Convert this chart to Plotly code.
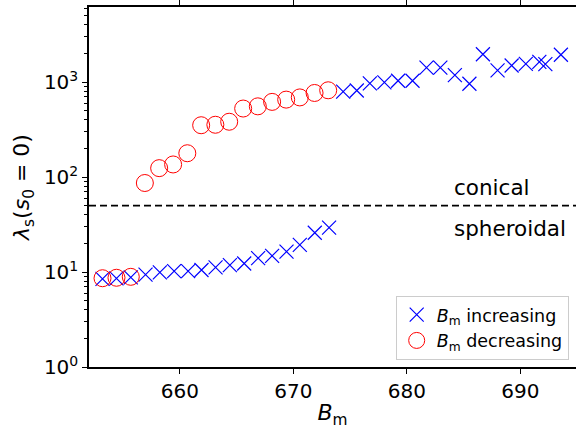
import plotly.graph_objects as go

# ---- data ----
inc_x = [653.19, 654.42, 655.68, 656.98, 658.24, 659.50, 660.73, 661.91, 663.15,
         664.41, 665.67, 666.90, 668.13, 669.40, 670.57, 671.89, 673.15,
         674.39, 675.59, 676.74, 678.02, 679.23, 680.50, 681.73, 682.95, 684.23,
         685.51, 686.70, 687.99, 689.23, 690.48, 691.67, 692.20, 693.57]
inc_y = [8.46, 8.58, 8.79, 9.38, 9.91, 10.2, 10.2, 10.5, 11.2,
         11.8, 12.3, 14.0, 14.8, 16.4, 19.3, 25.9, 29.3,
         792, 815, 968, 993, 1031, 1031, 1417, 1417, 1183,
         960, 1962, 1325, 1494, 1553, 1630, 1542, 1938]

dec_x = [653.19, 654.42, 655.68,
         656.92, 658.18, 659.41, 660.66, 661.88, 663.13, 664.35, 665.58,
         666.87, 668.13, 669.37, 670.57, 671.87, 673.07]
dec_y = [8.6, 8.7, 8.9,
         86.5, 124, 135.6, 178, 351, 355, 382, 526,
         555, 618, 653, 689, 767, 819]

threshold = 50
label_upper = "conical"
label_lower = "spheroidal"

y_tickvals = [1, 10, 100, 1000]
y_ticktext = ["10<sup>0</sup>", "10<sup>1</sup>", "10<sup>2</sup>", "10<sup>3</sup>"]
x_tickvals = [660, 670, 680, 690]
minor_vals = [m * 10 ** k for k in range(4) for m in range(2, 10)]

FONT = "DejaVu Sans"

fig = go.Figure()
fig.add_trace(go.Scatter(
    x=inc_x, y=inc_y, mode="markers",
    name="<i>B</i><sub>m</sub> increasing",
    marker=dict(symbol="x-thin-open", size=14, color="#0000ff",
                line=dict(color="#0000ff", width=1.2)),
))
fig.add_trace(go.Scatter(
    x=dec_x, y=dec_y, mode="markers",
    name="<i>B</i><sub>m</sub> decreasing",
    marker=dict(symbol="circle-open", size=17, color="#ff0000",
                line=dict(color="#ff0000", width=1)),
))

fig.add_shape(type="line", xref="paper", x0=0, x1=1, yref="y",
              y0=threshold, y1=threshold,
              line=dict(color="black", width=1.8, dash="7px,4px"))

fig.add_annotation(x=684.0, y=1.89, yref="y", text=label_upper, showarrow=False,
                   xanchor="left",
                   font=dict(family=FONT, size=21.5, color="black"))
fig.add_annotation(x=684.0, y=1.46, yref="y", text=label_lower, showarrow=False,
                   xanchor="left",
                   font=dict(family=FONT, size=21.5, color="black"))

fig.update_layout(
    width=576, height=429,
    margin=dict(l=89, r=0, t=4, b=62),
    paper_bgcolor="white", plot_bgcolor="white",
    font=dict(family=FONT, size=20, color="black"),
    showlegend=True,
    legend=dict(x=0.985, y=0.02, xanchor="right", yanchor="bottom",
                bgcolor="rgba(255,255,255,0.9)", bordercolor="#cccccc", borderwidth=1,
                font=dict(family=FONT, size=17.5, color="black"),
                tracegroupgap=0),
    xaxis=dict(
        range=[652, 694.9], showgrid=False, zeroline=False,
        showline=True, linecolor="black", linewidth=1.5, mirror="ticks",
        ticks="outside", ticklen=5, tickwidth=1.2, tickcolor="black",
        tickvals=x_tickvals,
        title=dict(text="<i>B</i><sub>m</sub>", font=dict(size=22), standoff=6),
    ),
    yaxis=dict(
        type="log", range=[0, 3.79], showgrid=False, zeroline=False,
        showline=True, linecolor="black", linewidth=1.5,
        ticks="outside", ticklen=5, tickwidth=1.2, tickcolor="black",
        tickvals=y_tickvals, ticktext=y_ticktext,
        minor=dict(ticks="outside", ticklen=3, tickwidth=0.8, tickcolor="black",
                   tickvals=minor_vals),
        title=dict(text="<i>λ</i><sub>s</sub>(<i>s</i><sub>0</sub> = 0)",
                   font=dict(size=22), standoff=8),
    ),
)

fig.write_html("out.html")
